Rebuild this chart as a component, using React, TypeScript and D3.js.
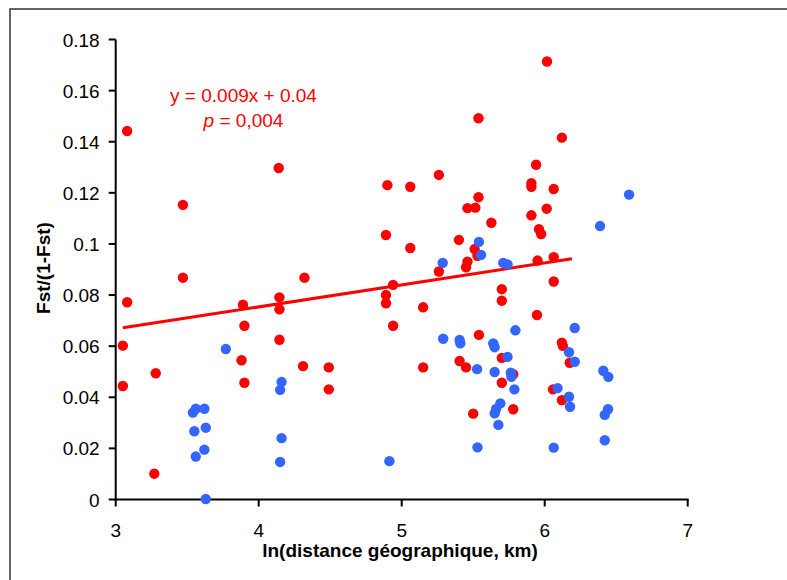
import * as d3 from "d3";

// red group
const redX = [3.08, 3.47, 3.05, 3.05, 3.28, 3.27, 3.89, 3.9, 3.88, 3.9, 4.145, 4.145, 4.145, 4.32, 4.31, 4.49, 4.49, 3.08, 3.47, 4.14,
  5.537, 4.9, 5.06, 5.26, 5.537, 5.46, 5.515, 5.627, 4.89, 5.06, 5.4, 5.51, 5.53, 5.46, 5.45, 5.907, 5.907, 5.94, 5.907, 5.96,
  5.975, 5.95, 5.26, 4.94, 4.89, 4.89, 5.15, 4.94, 5.7, 5.7, 5.946, 5.54, 5.7, 5.15, 5.405, 5.45, 5.78, 5.7, 5.78, 5.5,
  6.016, 6.12, 6.063, 6.014, 6.063, 6.063, 6.12, 6.127, 6.175, 6.058, 6.12];
const redY = [0.0772, 0.0868, 0.0602, 0.0444, 0.0494, 0.0101, 0.0762, 0.068, 0.0545, 0.0457, 0.0791, 0.0744, 0.0625, 0.0868, 0.0522, 0.0517, 0.0431, 0.1442, 0.1153, 0.1297,
  0.1492, 0.123, 0.1224, 0.127, 0.1183, 0.114, 0.1142, 0.1083, 0.1035, 0.0984, 0.1016, 0.098, 0.0954, 0.0931, 0.0909, 0.1238, 0.1224, 0.131, 0.1112, 0.1058,
  0.1039, 0.0935, 0.0892, 0.084, 0.08, 0.0768, 0.0752, 0.068, 0.0823, 0.0778, 0.0722, 0.0644, 0.0554, 0.0517, 0.0542, 0.0517, 0.049, 0.0457, 0.0353, 0.0336,
  0.1714, 0.1416, 0.1215, 0.1138, 0.0948, 0.0853, 0.0614, 0.0601, 0.0535, 0.0431, 0.0389];

// blue group
const blueX = [3.77, 3.54, 3.56, 3.62, 3.55, 3.63, 3.62, 3.56, 3.63, 4.16, 4.15, 4.16, 4.15, 5.54, 5.555, 5.287, 5.71, 5.74, 5.795, 5.29,
  5.405, 5.41, 5.64, 5.65, 5.74, 5.527, 5.65, 5.763, 5.767, 5.788, 5.69, 5.66, 5.65, 5.676, 5.53, 4.914, 6.59, 6.387, 6.21, 6.17,
  6.21, 6.41, 6.445, 6.09, 6.17, 6.177, 6.443, 6.42, 6.42, 6.063];
const blueY = [0.0589, 0.034, 0.0355, 0.0355, 0.0267, 0.0281, 0.0195, 0.0168, 0.0002, 0.046, 0.0429, 0.024, 0.0147, 0.1008, 0.0957, 0.0926, 0.0926, 0.092, 0.0662, 0.0629,
  0.0624, 0.0611, 0.0611, 0.0596, 0.0558, 0.051, 0.0499, 0.0496, 0.048, 0.0431, 0.0376, 0.0354, 0.0337, 0.0292, 0.0204, 0.015, 0.1193, 0.107, 0.0671, 0.0576,
  0.0539, 0.0504, 0.048, 0.0436, 0.0402, 0.0363, 0.0353, 0.0331, 0.0232, 0.0203];

// trend line ends
const trendX = [3.05, 6.19];
const trendY = [0.0672, 0.0942];

const xTicks = [3, 4, 5, 6, 7];
const yTicks = [0, 0.02, 0.04, 0.06, 0.08, 0.1, 0.12, 0.14, 0.16, 0.18];
const yTickLabels = ["0", "0.02", "0.04", "0.06", "0.08", "0.1", "0.12", "0.14", "0.16", "0.18"];

const RED = "#ff0000";
const BLUE = "#3366ff";
const FONT = "'Liberation Sans', Arial, sans-serif";

export default function App() {
  const x = d3.scaleLinear().domain([3, 7]).range([115.7, 687.7]);
  const y = d3.scaleLinear().domain([0, 0.18]).range([499.5, 39.5]);
  const line = d3.line<number>().x((d) => x(trendX[d])).y((d) => y(trendY[d]));

  return (
    <svg width={787} height={580} style={{ position: "absolute", left: 0, top: 0, background: "#fff" }}
      fontFamily={FONT}>
      <rect x={10} y={9} width={800} height={600} fill="none" stroke="#333" strokeWidth={1.5} />

      {/* axes */}
      <line x1={x(3)} x2={x(3)} y1={y(0.18)} y2={y(0) + 1} stroke="#000" strokeWidth={2} />
      <line x1={x(3) - 1} x2={x(7) + 1} y1={y(0)} y2={y(0)} stroke="#000" strokeWidth={2} />
      {yTicks.map((t, i) => (
        <g key={"y" + i}>
          <line x1={x(3) - 7} x2={x(3)} y1={y(t)} y2={y(t)} stroke="#000" strokeWidth={2} />
          <text x={x(3) - 16} y={y(t)} dy="0.37em" textAnchor="end" fontSize={19} fill="#000">
            {yTickLabels[i]}
          </text>
        </g>
      ))}
      {xTicks.map((t) => (
        <g key={"x" + t}>
          <line x1={x(t)} x2={x(t)} y1={y(0)} y2={y(0) + 7} stroke="#000" strokeWidth={2} />
          <text x={x(t)} y={537} textAnchor="middle" fontSize={19} fill="#000">{t}</text>
        </g>
      ))}

      <text x={400} y={557} textAnchor="middle" fontSize={19} fontWeight="bold" fill="#000">
        ln(distance géographique, km)
      </text>
      <text transform="translate(50,268) rotate(-90)" textAnchor="middle" fontSize={19} fontWeight="bold" fill="#000">
        Fst/(1-Fst)
      </text>

      {/* points */}
      {redX.map((v, i) => (
        <circle key={"r" + i} cx={x(v)} cy={y(redY[i])} r={5.2} fill={RED} />
      ))}
      <path d={line([0, 1]) || ""} stroke={RED} strokeWidth={3} fill="none" />
      {blueX.map((v, i) => (
        <circle key={"b" + i} cx={x(v)} cy={y(blueY[i])} r={5.2} fill={BLUE} />
      ))}

      <text x={243.5} y={102} textAnchor="middle" fontSize={19} fill={RED}>y = 0.009x + 0.04</text>
      <text x={243.5} y={127} textAnchor="middle" fontSize={19} fill={RED}>
        <tspan fontStyle="italic">p</tspan> = 0,004
      </text>
    </svg>
  );
}
